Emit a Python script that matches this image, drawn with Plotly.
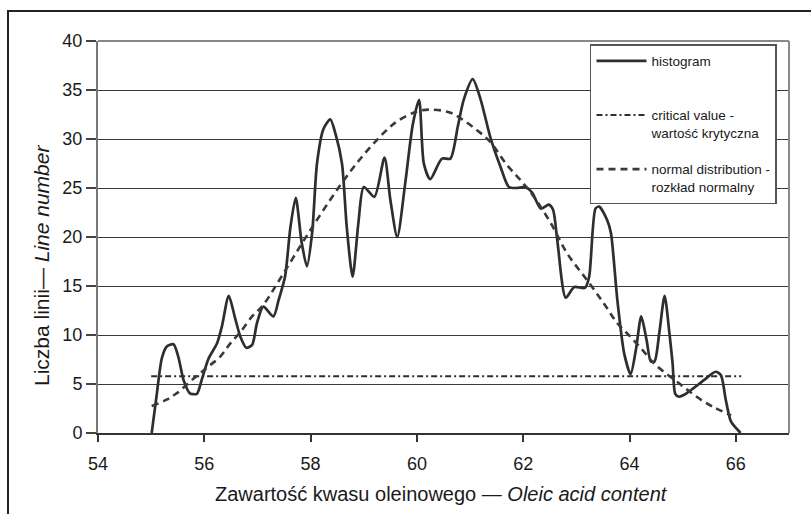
import plotly.graph_objects as go

# Smoothed histogram of oleic acid content (line counts per class)
hist_x = [55.01, 55.10, 55.20, 55.29, 55.42, 55.51, 55.61, 55.73, 55.86, 55.95,
          56.08, 56.24, 56.33, 56.46, 56.58, 56.68, 56.79, 56.90, 56.99, 57.11,
          57.30, 57.40, 57.52, 57.62, 57.72, 57.83, 57.93, 58.03, 58.12, 58.24,
          58.37, 58.47, 58.59, 58.68, 58.79, 58.90, 59.00, 59.20, 59.39, 59.50,
          59.63, 59.78, 59.92, 60.04, 60.13, 60.25, 60.47, 60.63, 60.77, 60.88,
          61.05, 61.20, 61.38, 61.57, 61.73, 61.88, 62.04, 62.17, 62.33, 62.48,
          62.56, 62.64, 62.80, 62.96, 63.16, 63.24, 63.36, 63.43, 63.58, 63.65,
          63.77, 63.90, 64.02, 64.12, 64.22, 64.32, 64.40, 64.47, 64.56, 64.66,
          64.75, 64.81, 64.86, 64.93, 65.03, 65.21, 65.40, 65.62, 65.72, 65.81,
          65.91, 66.09]
hist_y = [0.0, 3.7, 7.6, 8.8, 9.05, 7.8, 5.4, 4.05, 4.0, 5.4,
          7.6, 9.15, 10.85, 14.0, 11.7, 9.8, 8.7, 9.0, 11.2, 12.9,
          11.9, 13.6, 16.0, 21.0, 24.0, 19.5, 17.0, 20.5, 27.5, 31.0,
          32.0, 30.5, 27.5, 21.0, 15.95, 21.5, 25.1, 24.1, 28.1, 23.8,
          20.0, 25.5, 31.4, 34.0, 27.5, 25.9, 28.0, 28.0, 31.3, 34.0,
          36.1, 34.0, 30.2, 27.2, 25.1, 25.0, 25.1, 24.5, 22.9, 23.3,
          22.8, 19.7, 13.8, 14.9, 14.8, 15.95, 22.9, 23.1, 21.7, 20.4,
          13.6, 8.1, 6.0, 8.5, 11.9, 9.5, 7.3, 7.3, 10.2, 14.0,
          10.2, 7.1, 4.0, 3.7, 3.9, 4.6, 5.4, 6.25, 5.9, 3.4,
          1.15, 0.0]

# Fitted normal distribution
norm_x = [55.01, 55.29, 55.48, 55.83, 56.08, 56.30, 56.49, 56.68, 56.90, 57.10,
          57.49, 57.96, 58.56, 59.00, 59.41, 59.63, 60.00, 60.27, 60.62, 60.88,
          61.13, 61.38, 61.70, 61.95, 62.20, 62.52, 62.83, 63.20, 63.52, 63.77,
          64.02, 64.27, 64.46, 64.68, 64.90, 65.09, 65.34, 65.56, 65.91]
norm_y = [2.75, 3.4, 4.05, 5.7, 6.8, 7.8, 9.15, 10.3, 11.9, 13.0,
          16.3, 20.4, 25.3, 28.4, 30.8, 31.8, 32.8, 33.0, 32.7, 31.9,
          30.9, 29.7, 27.3, 25.8, 24.1, 21.4, 18.3, 15.6, 13.2, 11.2,
          9.8, 8.3, 7.1, 6.1, 5.2, 4.4, 3.4, 2.7, 1.8]

# Critical value line
crit_x = [55.0, 66.1]
crit_y = [5.8, 5.8]

x_ticks = [54, 56, 58, 60, 62, 64, 66]
y_ticks = [0, 5, 10, 15, 20, 25, 30, 35, 40]

FONT = "Liberation Sans, Arial, sans-serif"

fig = go.Figure()
fig.add_trace(go.Scatter(
    x=hist_x, y=hist_y, mode="lines", name="histogram<br> ",
    legendgroup="a",
    line=dict(color="#2e2e2e", width=2.7, shape="spline", smoothing=0.7),
))
fig.add_trace(go.Scatter(
    x=crit_x, y=crit_y, mode="lines",
    name="critical value -<br>wartość krytyczna",
    legendgroup="b",
    line=dict(color="#2e2e2e", width=2, dash="6px,3px,2px,3px"),
))
fig.add_trace(go.Scatter(
    x=norm_x, y=norm_y, mode="lines",
    name="normal distribution -<br>rozkład normalny",
    legendgroup="c",
    line=dict(color="#3a3a3a", width=2.6, dash="7px,5px", shape="spline"),
))

fig.update_layout(
    width=811, height=514,
    margin=dict(l=98, r=22, t=41, b=81),
    paper_bgcolor="white", plot_bgcolor="white",
    font=dict(family=FONT, color="#1a1a1a"),
    showlegend=True,
    legend=dict(
        x=0.712, y=0.992, xanchor="left", yanchor="top",
        bgcolor="white", bordercolor="#555555", borderwidth=1.5,
        font=dict(family=FONT, size=13.5, color="#1a1a1a"),
        tracegroupgap=16, valign="top", itemwidth=50,
    ),
    xaxis=dict(
        range=[54, 67], tickvals=x_ticks, ticktext=[str(v) for v in x_ticks],
        showgrid=False, zeroline=False,
        showline=True, linecolor="#333333", linewidth=2,
        ticks="outside", ticklen=7, tickwidth=1.5, tickcolor="#333333",
        tickfont=dict(family=FONT, size=18, color="#1a1a1a"),
        ticklabelstandoff=6,
    ),
    yaxis=dict(
        range=[0, 40], tickvals=y_ticks, ticktext=[str(v) for v in y_ticks],
        showgrid=True, gridcolor="#3a3a3a", gridwidth=1, zeroline=False,
        showline=True, linecolor="#777777", linewidth=2,
        ticks="outside", ticklen=10, tickwidth=1.5, tickcolor="#444444",
        tickfont=dict(family=FONT, size=18, color="#1a1a1a"),
    ),
    annotations=[
        dict(text="Zawartość kwasu oleinowego — <i>Oleic acid content</i>",
             xref="paper", yref="paper", x=(441 - 98) / 691, y=(433 - 494) / 392,
             xanchor="center", yanchor="middle", showarrow=False,
             font=dict(family=FONT, size=20, color="#1a1a1a")),
        dict(text="Liczba linii— <i>Line number</i>",
             xref="paper", yref="paper", x=(41 - 98) / 691, y=(433 - 266) / 392,
             xanchor="center", yanchor="middle", showarrow=False, textangle=-90,
             font=dict(family=FONT, size=21, color="#1a1a1a")),
    ],
    shapes=[
        # outer frame
        dict(type="rect", xref="paper", yref="paper",
             x0=(8 - 98) / 691, x1=1.06, y0=-0.25, y1=(433 - 11) / 392,
             line=dict(color="#222222", width=2), layer="below"),
        # top and right borders of the plotting area
        dict(type="line", xref="paper", yref="paper", x0=0, x1=1, y0=1, y1=1,
             line=dict(color="#888888", width=2)),
        dict(type="line", xref="paper", yref="paper", x0=1, x1=1, y0=0, y1=1,
             line=dict(color="#888888", width=2)),
    ],
)

fig.write_html("out.html")
